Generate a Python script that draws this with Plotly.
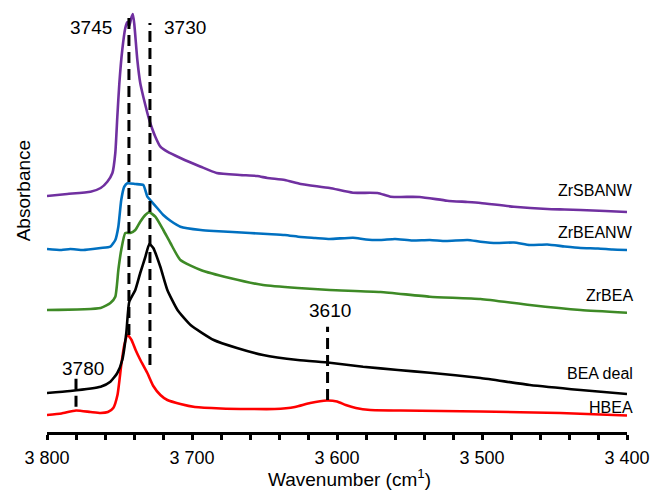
import plotly.graph_objects as go

# ---------------- data (wavenumber cm-1, absorbance a.u.) ----------------
hbea_x = [3800, 3790, 3780, 3770, 3763, 3758, 3754.3, 3751.4, 3748.8, 3746.7, 3744.4, 3741.7,
          3738.9, 3735.6, 3730.8, 3726.7, 3721.8, 3717, 3708, 3698, 3680, 3660, 3643, 3629,
          3618.5, 3607, 3600, 3594, 3587, 3577, 3556, 3501, 3446, 3400]
hbea_y = [0.17, 0.185, 0.215, 0.20, 0.19, 0.20, 0.24, 0.37, 0.67, 0.87, 0.97, 0.92,
          0.82, 0.72, 0.59, 0.46, 0.37, 0.32, 0.28, 0.25, 0.235, 0.23, 0.23, 0.25,
          0.29, 0.315, 0.305, 0.27, 0.24, 0.22, 0.215, 0.205, 0.19, 0.165]

deal_x = [3800, 3784, 3763, 3756.3, 3751.5, 3748.1, 3745.3, 3743.3, 3739.1, 3735.7, 3732.2,
          3729.4, 3726.7, 3721.8, 3717, 3710, 3701, 3685, 3669, 3651, 3627, 3605, 3582,
          3558, 3536, 3501, 3467, 3432, 3400]
deal_y = [0.39, 0.41, 0.453, 0.503, 0.59, 0.72, 0.99, 1.30, 1.42, 1.59, 1.75,
          1.88, 1.84, 1.65, 1.42, 1.22, 1.07, 0.92, 0.84, 0.77, 0.72, 0.693, 0.653,
          0.62, 0.593, 0.54, 0.47, 0.42, 0.38]

zrbea_x = [3800, 3763, 3756.3, 3752.9, 3750.8, 3748.8, 3746, 3742.6, 3739.1, 3735.7, 3732.2,
           3729.4, 3725.3, 3719.8, 3714.9, 3708, 3694, 3674, 3651, 3627, 3605, 3570,
           3536, 3501, 3467, 3432, 3400]
zrbea_y = [1.22, 1.24, 1.29, 1.353, 1.62, 1.82, 1.99, 1.99, 2.02, 2.103, 2.17,
           2.197, 2.153, 2.02, 1.89, 1.72, 1.62, 1.54, 1.47, 1.44, 1.42, 1.40,
           1.353, 1.33, 1.27, 1.22, 1.193]

zrbeanw_x = [3800, 3790, 3784, 3775, 3763, 3756.3, 3752.9, 3750.8, 3748.8, 3746.7, 3744.6,
             3739.1, 3733.6, 3730.8, 3728.8, 3724, 3719.8, 3714.9, 3708, 3694, 3685, 3672,
             3660, 3648, 3636, 3625, 3615, 3605, 3589, 3580, 3570, 3560, 3548, 3536, 3525,
             3510, 3501, 3490, 3478, 3467, 3455, 3443, 3432, 3420, 3410, 3400]
zrbeanw_y = [1.83, 1.82, 1.83, 1.82, 1.84, 1.853, 1.92, 2.053, 2.32, 2.453, 2.487,
             2.48, 2.47, 2.353, 2.32, 2.24, 2.17, 2.113, 2.053, 2.02, 2.01, 2.00,
             1.99, 1.98, 1.97, 1.95, 1.94, 1.93, 1.943, 1.925, 1.92, 1.93, 1.915, 1.92, 1.91,
             1.92, 1.903, 1.89, 1.895, 1.87, 1.875, 1.855, 1.84, 1.835, 1.825, 1.82]

zrsbanw_x = [3800, 3786, 3770, 3763, 3758.4, 3754.9, 3752.9, 3751.5, 3750.1, 3748.1, 3746,
             3744.6, 3743.3, 3741.9, 3740.8, 3739.8, 3737.7, 3735.7, 3733.6, 3730.8, 3728.8,
             3725.3, 3721.8, 3717, 3708, 3694, 3683, 3667, 3655, 3648, 3636, 3625, 3605,
             3589, 3572, 3563, 3543, 3524, 3510, 3501, 3478, 3455, 3443, 3432, 3415, 3400]
zrsbanw_y = [2.36, 2.38, 2.403, 2.44, 2.503, 2.59, 2.79, 3.153, 3.49, 3.82, 4.04,
             4.10, 4.06, 4.14, 4.18, 4.08, 3.72, 3.49, 3.353, 3.19, 3.09,
             2.953, 2.853, 2.803, 2.74, 2.653, 2.59, 2.57, 2.56, 2.54, 2.52, 2.48, 2.44,
             2.393, 2.39, 2.353, 2.35, 2.313, 2.30, 2.29, 2.253, 2.23, 2.225, 2.22, 2.21, 2.20]

series_names = ["HBEA", "BEA deal", "ZrBEA", "ZrBEANW", "ZrSBANW"]
series_colors = ["#FF0000", "#000000", "#3E8A26", "#0070C0", "#7030A0"]
series_label_y = [0.25, 0.59, 1.37, 2.00, 2.42]

# marked band positions (dashed guides) and their labels
band_x = [3780, 3743.5, 3729, 3606.5]
band_top = [0.553, 4.15, 4.09, 1.053]
band_bottom = [0.253, 0.97, 0.67, 0.32]
band_text = ["3780", "3745", "3730", "3610"]
band_text_x = [3775, 3770, 3704.6, 3604.6]
band_text_y = [0.64, 4.05, 4.05, 1.22]

tick_vals = [3800, 3700, 3600, 3500, 3400]
tick_text = ["3 800", "3 700", "3 600", "3 500", "3 400"]

# ---------------- figure ----------------
fig = go.Figure()

xs = [hbea_x, deal_x, zrbea_x, zrbeanw_x, zrsbanw_x]
ys = [hbea_y, deal_y, zrbea_y, zrbeanw_y, zrsbanw_y]
for x, y, name, col in zip(xs, ys, series_names, series_colors):
    fig.add_trace(go.Scatter(x=x, y=y, mode="lines", name=name,
                             line=dict(color=col, width=2.6, shape="spline", smoothing=0.5),
                             hoverinfo="skip", cliponaxis=False))

for bx, bt, bb in zip(band_x, band_top, band_bottom):
    fig.add_trace(go.Scatter(x=[bx, bx], y=[bb, bt], mode="lines",
                             line=dict(color="black", width=3, dash="11px,6px"),
                             hoverinfo="skip", showlegend=False, cliponaxis=False))

FONT = "Liberation Sans, Arial, sans-serif"
ann = []
for t, tx, ty in zip(band_text, band_text_x, band_text_y):
    ann.append(dict(x=tx, y=ty, xref="x", yref="y", text=t, showarrow=False,
                    font=dict(family=FONT, size=19, color="black"),
                    xanchor="center", yanchor="middle"))
for name, ly in zip(series_names, series_label_y):
    ann.append(dict(x=1.0135, y=ly, xref="paper", yref="y", text=name, showarrow=False,
                    font=dict(family=FONT, size=16, color="black"),
                    xanchor="right", yanchor="middle"))
ann.append(dict(x=-0.039, y=0.574, xref="paper", yref="paper", text="Absorbance",
                showarrow=False, textangle=-90,
                font=dict(family=FONT, size=19, color="black"),
                xanchor="center", yanchor="middle"))
ann.append(dict(x=0.521, y=-0.11, xref="paper", yref="paper",
                text="Wavenumber (cm<sup>1</sup>)", showarrow=False,
                font=dict(family=FONT, size=19, color="black"),
                xanchor="center", yanchor="middle"))

fig.update_layout(
    width=658, height=500,
    margin=dict(l=46.7, r=31.3, t=12, b=68, pad=0, autoexpand=False),
    paper_bgcolor="white", plot_bgcolor="white",
    showlegend=False, hovermode=False,
    annotations=ann,
    xaxis=dict(range=[3800, 3400], tickmode="array", tickvals=tick_vals, ticktext=tick_text,
               automargin=False,
               showgrid=False, zeroline=False, showline=True, linecolor="black", linewidth=3,
               ticks="outside", ticklen=5, tickwidth=2.5, tickcolor="black",
               ticklabelstandoff=2,
               tickfont=dict(family=FONT, size=18, color="black"),
               minor=dict(dtick=20, tick0=3400, ticks="outside", ticklen=5, tickwidth=2.5,
                          tickcolor="black", showgrid=False)),
    yaxis=dict(range=[0, 4.2], showticklabels=False, showgrid=False, zeroline=False,
               showline=False, ticks="", automargin=False),
)

fig.write_html("out.html", config={"displayModeBar": False},
               post_script="document.body.style.margin='0px';document.body.style.overflow='hidden';")
